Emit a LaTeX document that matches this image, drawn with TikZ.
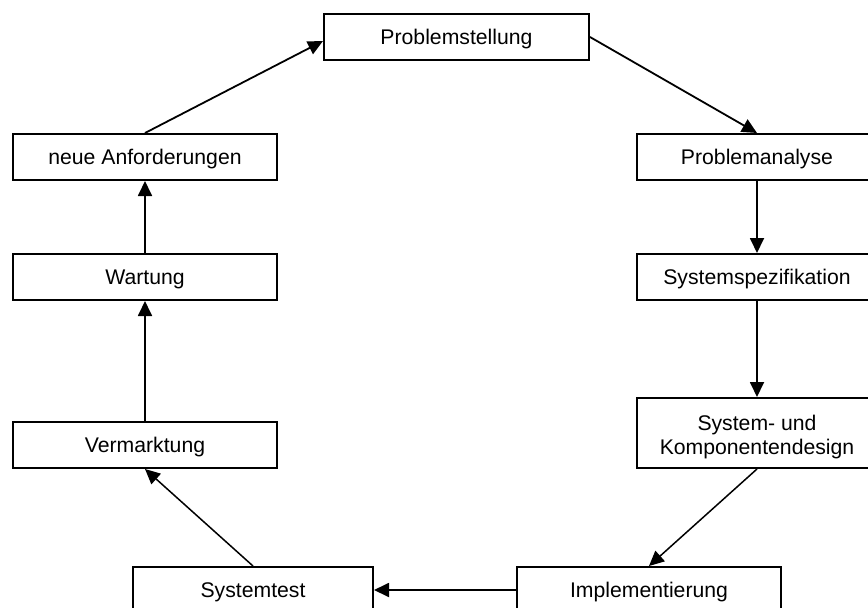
\documentclass[tikz,border=0pt]{standalone}
\usepackage{fontspec}
\setmainfont{Liberation Sans}
\usetikzlibrary{arrows.meta}
\begin{document}
\begin{tikzpicture}[x=1pt,y=-1pt,
  box/.style={draw=black,line width=2pt,fill=white,inner sep=0pt,minimum height=46pt,
    align=center,font=\fontsize{21.2}{24}\selectfont},
  onebox/.style={box,text height=15.2pt,text depth=0pt},
  conn/.style={line width=1.8pt,-{Triangle[length=15pt,width=14pt]}},
  thin conn/.style={line width=1.5pt,-{Triangle[length=15pt,width=14pt]}}]
\useasboundingbox (0,0) rectangle (868,608);
\node[onebox,minimum width=265pt] (ps) at (456.5,37) {Problemstellung};
\node[onebox,minimum width=264pt] (na) at (145,157) {neue Anforderungen};
\node[onebox,minimum width=264pt] (wt) at (145,277) {Wartung};
\node[onebox,minimum width=264pt] (vm) at (145,445) {Vermarktung};
\node[onebox,minimum width=240pt] (pa) at (757,157) {Problemanalyse};
\node[onebox,minimum width=240pt] (ss) at (757,277) {Systemspezifikation};
\node[box,minimum width=240pt,minimum height=70pt] (kd) at (757,433) {\rule{0pt}{23pt}System- und\\Komponentendesign};
\node[onebox,minimum width=240pt] (st) at (253,590) {Systemtest};
\node[onebox,minimum width=264pt] (im) at (649,590) {Implementierung};
\draw[conn] (na.north) -- ([yshift=-4pt]ps.west);
\draw[conn] (ps.east) -- (pa.north);
\draw[conn] (pa.south) -- (ss.north);
\draw[conn] (ss.south) -- (kd.north);
\draw[thin conn] (kd.south) -- (im.north);
\draw[conn] (im.west) -- (st.east);
\draw[thin conn] (st.north) -- (vm.south);
\draw[conn] (vm.north) -- (wt.south);
\draw[conn] (wt.north) -- (na.south);
\end{tikzpicture}
\end{document}
